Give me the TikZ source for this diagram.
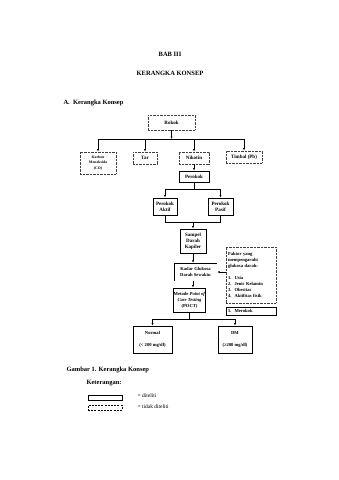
\documentclass[tikz,border=0pt]{standalone}
\usepackage{fontspec}
\setmainfont{Liberation Serif}
\usetikzlibrary{arrows.meta}
\begin{document}
\begin{tikzpicture}[x=1pt,y=-1pt,
  solidbox/.style={draw, line width=0.9pt, inner sep=0pt, align=center, font=\fontsize{5}{6}\selectfont\bfseries},
  dashbox/.style={draw=black!75, dash pattern=on 0.8pt off 0.6pt, line width=0.8pt, inner sep=0pt, align=center, font=\fontsize{5}{6}\selectfont\bfseries},
  arr/.style={-{Latex[length=2.4pt,width=2pt]}, line width=0.6pt},
  ln/.style={line width=0.6pt},
  title/.style={font=\fontsize{6.5}{8}\selectfont\bfseries}]
\useasboundingbox[fill=white] (0,0) rectangle (339,480);

% titles
\node[title] (bab) at (170,54) {BAB III};
\node[title] (kk) at (170,73) {KERANGKA KONSEP};
\node[title, anchor=west] (seca) at (60,103) {A.\ \ Kerangka Konsep};

% boxes
\node[dashbox, minimum width=47, minimum height=15] (rokok) at (171.5,122.5) {Rokok};
\node[dashbox, minimum width=36, minimum height=22, font=\fontsize{3.8}{5.5}\selectfont\bfseries] (karbon) at (98,163) {Karbon\\Monoksida\\(CO)};
\node[dashbox, minimum width=24, minimum height=12] (tar) at (145,158) {Tar};
\node[dashbox, minimum width=30, minimum height=12] (nikotin) at (194,158) {Nikotin};
\node[dashbox, minimum width=36, minimum height=12] (timbal) at (244,157) {Timbal (Pb)};
\node[solidbox, minimum width=30, minimum height=11] (perokok) at (194,176.5) {Perokok};
\node[solidbox, minimum width=24, minimum height=17] (aktif) at (165,206.5) {Perokok\\Aktif};
\node[solidbox, minimum width=25, minimum height=17] (pasif) at (220.5,206.5) {Perokok\\Pasif};
\node[solidbox, minimum width=26, minimum height=24] (sampel) at (193,241) {Sampel\\Darah\\Kapiler};
\node[inner sep=0pt, minimum width=43, minimum height=18, align=center, font=\fontsize{4.6}{6}\selectfont\bfseries] (kadar) at (195.5,272) {Kadar Glukosa\\Darah Sewaktu};
\draw[line width=0.6pt] (kadar.south west) -- (kadar.north west) -- (kadar.north east);
\node[solidbox, minimum width=31, minimum height=24, font=\fontsize{4.6}{6}\selectfont\bfseries] (metode) at (189.5,300) {Metode \textit{Point of}\\\textit{Care Testing}\\(POCT)};
\node[solidbox, minimum width=39, minimum height=27, font=\fontsize{4.6}{12}\selectfont\bfseries] (normal) at (152.5,339.5) {Normal\\(< 200 mg/dl)};
\node[solidbox, minimum width=34, minimum height=27, font=\fontsize{4.6}{12}\selectfont\bfseries] (dm) at (235,339.5) {DM\\(≥200 mg/dl)};
\node[dashbox, minimum width=50, minimum height=56, text width=46pt, align=left, font=\fontsize{4.6}{6.2}\selectfont\bfseries] (faktor) at (251,275) {Faktor yang\\mempengaruhi\\glukosa darah:\\[5pt]1.\ \ Usia\\2.\ \ Jenis Kelamin\\3.\ \ Obesitas\\4.\ \ Aktifitas fisik};
\node[solidbox, minimum width=50, minimum height=8, text width=46pt, align=left, font=\fontsize{4.6}{6}\selectfont\bfseries] (merokok) at (251,311) {5.\ \ Merokok};

% connectors
\coordinate (b1) at (171.5,139);
\coordinate (b1l) at (98,139);
\coordinate (b1r) at (244,139);
\draw[arr] (rokok.south) -- (b1);
\draw[ln] (b1l) -- (b1r);
\draw[arr] (b1l) -- (karbon.north);
\draw[arr] (tar.north |- b1) -- (tar.north);
\draw[arr] (nikotin.north |- b1) -- (nikotin.north);
\draw[arr] (b1r) -- (timbal.north);
\draw[arr] (nikotin.south) -- (perokok.north);

\coordinate (b2) at (194,189);
\draw[ln] (perokok.south) -- (b2);
\draw[ln] (aktif.north |- b2) -- (pasif.north |- b2);
\draw[arr] (aktif.north |- b2) -- (aktif.north);
\draw[arr] (pasif.north |- b2) -- (pasif.north);

\coordinate (b3) at (193,222);
\draw[ln] (aktif.south) -- (aktif.south |- b3) -- (pasif.south |- b3) -- (pasif.south);
\draw[arr] (b3) -- (sampel.north);
\draw[arr] (sampel.south) -- (sampel.south |- kadar.north);
\draw[arr] (sampel.south |- kadar.south) -- (sampel.south |- metode.north);
\draw[arr] (faktor.west |- kadar.east) -- (kadar.east);

\coordinate (b4) at (189.5,319);
\draw[ln] (metode.south) -- (b4);
\draw[ln] (normal.north |- b4) -- (dm.north |- b4);
\draw[arr] (normal.north |- b4) -- (normal.north);
\draw[arr] (dm.north |- b4) -- (dm.north);

% legend
\node[title, anchor=west] (gambar) at (63,370) {Gambar 1. Kerangka Konsep};
\node[title, anchor=west] (ket) at (83,383) {Keterangan:};
\node[draw, line width=0.8pt, minimum width=34, minimum height=5, inner sep=0pt] (lsolid) at (105,397.5) {};
\node[draw, line width=0.8pt, dash pattern=on 2pt off 1.2pt, minimum width=34, minimum height=5, inner sep=0pt] (ldash) at (105,407.5) {};
\node[anchor=west, font=\fontsize{5.5}{7}\selectfont] (tsolid) at (134,395.5) {= diteliti};
\node[anchor=west, font=\fontsize{5.5}{7}\selectfont] (tdash) at (134,407) {= tidak diteliti};
\end{tikzpicture}
\end{document}
